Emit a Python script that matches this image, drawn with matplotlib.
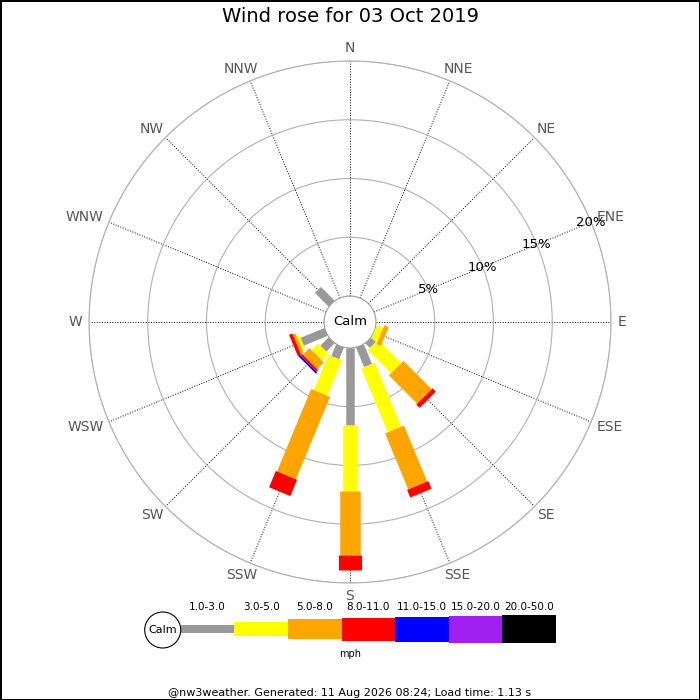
import numpy as np
import matplotlib.pyplot as plt
from matplotlib.patches import Circle
from matplotlib.transforms import offset_copy

plt.rcParams["font.family"] = "DejaVu Sans"

directions = ["N", "NNE", "NE", "ENE", "E", "ESE", "SE", "SSE",
              "S", "SSW", "SW", "WSW", "W", "WNW", "NW", "NNW"]
speed_bins = ["1.0-3.0", "3.0-5.0", "5.0-8.0", "8.0-11.0",
              "11.0-15.0", "15.0-20.0", "20.0-50.0"]
bin_colors = ["#999999", "#ffff00", "#ffa500", "#ff0000",
              "#0000ff", "#a020f0", "#000000"]

# percent of the day per direction, one list per speed bin (mph)
#            N  NNE NE ENE E  ESE  SE    SSE   S     SSW   SW    WSW   W  WNW NW    NNW
pct_1_3   = [0, 0,  0, 0,  0, 0,   0.55, 1.80, 6.55, 1.07, 1.00, 2.20, 0, 0,  1.65, 0]
pct_3_5   = [0, 0,  0, 0,  0, 0.6, 2.80, 5.90, 5.60, 3.25, 0.80, 0.25, 0, 0,  0,    0]
pct_5_8   = [0, 0,  0, 0,  0, 0.4, 3.40, 5.15, 5.45, 7.60, 0.80, 0.25, 0, 0,  0,    0]
pct_8_11  = [0, 0,  0, 0,  0, 0,   0.40, 0.70, 1.30, 1.50, 0.20, 0.30, 0, 0,  0,    0]
pct_11_15 = [0, 0,  0, 0,  0, 0,   0,    0,    0,    0,    0.15, 0,    0, 0,  0,    0]
pct_15_20 = [0] * 16
pct_20_50 = [0] * 16
pct_bins = [pct_1_3, pct_3_5, pct_5_8, pct_8_11, pct_11_15, pct_15_20, pct_20_50]

ring_pct = [5, 10, 15, 20]

# bar thickness (pixels) for each speed bin
bar_px = [8.5, 14.5, 20.5, 23, 25, 27, 28.5]

fig = plt.figure(figsize=(7, 7), dpi=100)
fig.patch.set_edgecolor("black")
fig.patch.set_linewidth(2)

R = 261 / 700
r_orig = -2.21
ax = fig.add_axes([0.5 - R, 1 - 322 / 700 - R, 2 * R, 2 * R], projection="polar")
ax.set_theta_zero_location("N")
ax.set_theta_direction(-1)
ax.set_ylim(0, 20)
ax.set_rorigin(r_orig)

theta = np.deg2rad(np.arange(16) * 22.5)
ax.set_xticks(theta)
ax.set_xticklabels([])
ax.set_yticks(ring_pct)
ax.set_yticklabels([])
ax.xaxis.grid(True, color="black", linestyle=":", linewidth=0.7)
ax.yaxis.grid(True, color="#b0b0b0", linestyle="-", linewidth=0.8)
ax.spines["polar"].set_color("#b0b0b0")
ax.spines["polar"].set_linewidth(0.8)
ax.spines["inner"].set_color("#999999")
ax.spines["inner"].set_linewidth(0.8)

base = np.zeros(16)
for vals, col, w in zip(pct_bins, bin_colors, bar_px):
    vals = np.asarray(vals, dtype=float)
    for t, b, v in zip(theta, base, vals):
        if v > 0:
            ax.plot([t, t], [b, b + v], color=col, lw=w * 0.72,
                    solid_capstyle="butt", zorder=3)
    base = base + vals

# compass labels: nearest edge of each label sits just outside the rim
renderer = fig.canvas.get_renderer()
r_lab = 268 / 261 * (20 - r_orig) + r_orig
for t, name in zip(theta, directions):
    txt = ax.text(t, r_lab, name, ha="center", va="center", color="#555555",
                  fontsize=10)
    bb = txt.get_window_extent(renderer)
    dx = 0.5 * bb.width * np.sin(t)
    dy = 0.4 * bb.height * np.cos(t)
    txt.set_transform(offset_copy(ax.transData, fig=fig, x=dx, y=dy, units="dots"))

for p in ring_pct:
    ax.text(np.deg2rad(67.5), p, f"{p}%", ha="center", va="center",
            fontsize=9.5, zorder=4)

ax.text(0.5, 0.5, "Calm", transform=ax.transAxes, ha="center", va="center",
        fontsize=9.5, zorder=4)

fig.text(0.5, 1 - 17 / 700, "Wind rose for 03 Oct 2019", ha="center",
         va="center", fontsize=14)

# legend strip
lax = fig.add_axes([140 / 700, 1 - 664 / 700, 420 / 700, 66 / 700])
lax.set_xlim(140, 560)
lax.set_ylim(664, 598)
lax.axis("off")
bw = 53.6
lefts = 180.7 + bw * np.arange(len(speed_bins))
heights = np.array(bar_px)
lax.bar(lefts, heights, width=bw, bottom=629 - heights / 2, align="edge",
        color=bin_colors, linewidth=0)
lax.add_patch(Circle((162.7, 630), 18, facecolor="white", edgecolor="black",
                     linewidth=0.8))
lax.text(162.7, 630, "Calm", ha="center", va="center", fontsize=8)
for x, lab in zip(lefts + bw / 2, speed_bins):
    lax.text(x, 607, lab, ha="center", va="center", fontsize=7.5)
lax.text(350, 654, "mph", ha="center", va="center", fontsize=7)

fig.text(0.5, 1 - 693 / 700,
         "@nw3weather. Generated: 11 Aug 2026 08:24; Load time: 1.13 s",
         ha="center", va="center", fontsize=8)

fig.savefig("out.png", dpi=100)
